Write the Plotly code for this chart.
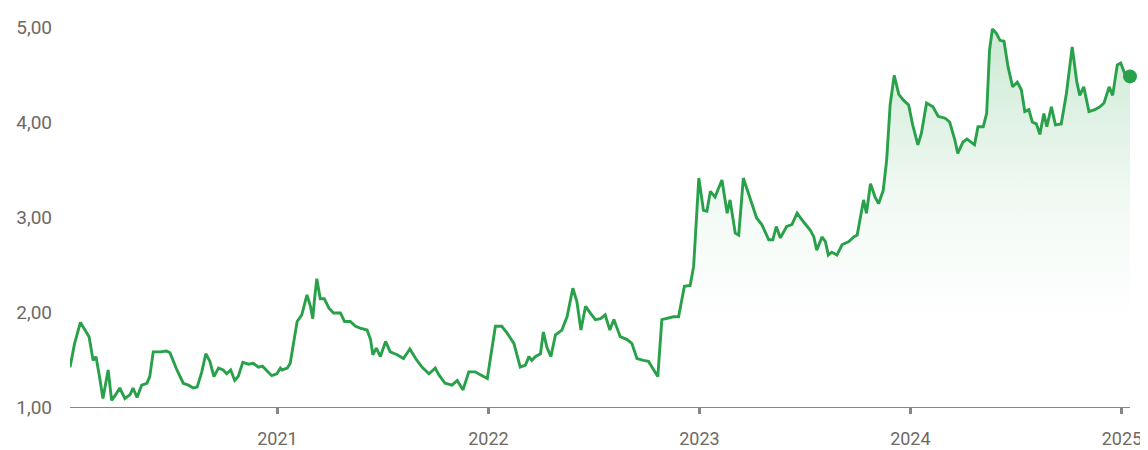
import plotly.graph_objects as go

dates = [
    "2020-01-08", "2020-01-16", "2020-01-26", "2020-02-03", "2020-02-10", "2020-02-17", "2020-02-22",
    "2020-02-28", "2020-03-05", "2020-03-14", "2020-03-20", "2020-03-27", "2020-04-03", "2020-04-12",
    "2020-04-21", "2020-04-26", "2020-05-03", "2020-05-11", "2020-05-20", "2020-05-25", "2020-05-31",
    "2020-06-12", "2020-06-23", "2020-06-29", "2020-07-11", "2020-07-22", "2020-07-31", "2020-08-08",
    "2020-08-15", "2020-08-23", "2020-08-30", "2020-09-06", "2020-09-13", "2020-09-21", "2020-09-29",
    "2020-10-05", "2020-10-12", "2020-10-19", "2020-10-25", "2020-11-02", "2020-11-12", "2020-11-20",
    "2020-11-29", "2020-12-06", "2020-12-13", "2020-12-22", "2020-12-31",
    "2021-01-06", "2021-01-09", "2021-01-18", "2021-01-23", "2021-01-29", "2021-02-04", "2021-02-12",
    "2021-02-21", "2021-02-27", "2021-03-03", "2021-03-06", "2021-03-10", "2021-03-16", "2021-03-23",
    "2021-03-31", "2021-04-08", "2021-04-20", "2021-04-27", "2021-05-07", "2021-05-16", "2021-05-24",
    "2021-06-05", "2021-06-11", "2021-06-15", "2021-06-21", "2021-06-28", "2021-07-07", "2021-07-15",
    "2021-07-27", "2021-08-07", "2021-08-18", "2021-08-28", "2021-09-08", "2021-09-20", "2021-10-01",
    "2021-10-07", "2021-10-18", "2021-10-30", "2021-11-08", "2021-11-18", "2021-11-28", "2021-12-09",
    "2021-12-18", "2021-12-30",
    "2022-01-13", "2022-01-24", "2022-02-02", "2022-02-14", "2022-02-25", "2022-03-06", "2022-03-12",
    "2022-03-17", "2022-03-23", "2022-04-01", "2022-04-06", "2022-04-12", "2022-04-19", "2022-04-27",
    "2022-05-08", "2022-05-17", "2022-05-27", "2022-06-03", "2022-06-10", "2022-06-18", "2022-06-26",
    "2022-07-05", "2022-07-14", "2022-07-22", "2022-07-30", "2022-08-06", "2022-08-17", "2022-08-29",
    "2022-09-06", "2022-09-15", "2022-09-26", "2022-10-05", "2022-10-14", "2022-10-21", "2022-10-28",
    "2022-11-06", "2022-11-17", "2022-11-26", "2022-12-06", "2022-12-16", "2022-12-22", "2022-12-31",
    "2023-01-08", "2023-01-14", "2023-01-20", "2023-01-28", "2023-02-09", "2023-02-18", "2023-02-23",
    "2023-03-04", "2023-03-10", "2023-03-18", "2023-03-30", "2023-04-10", "2023-04-19", "2023-05-01",
    "2023-05-08", "2023-05-14", "2023-05-21", "2023-06-01", "2023-06-10", "2023-06-19", "2023-06-30",
    "2023-07-12", "2023-07-18", "2023-07-23", "2023-08-01", "2023-08-07", "2023-08-12", "2023-08-18",
    "2023-08-27", "2023-09-05", "2023-09-16", "2023-09-25", "2023-10-01", "2023-10-06", "2023-10-12",
    "2023-10-17", "2023-10-24", "2023-11-01", "2023-11-07", "2023-11-15", "2023-11-21", "2023-11-27",
    "2023-12-04", "2023-12-12", "2023-12-20", "2023-12-29",
    "2024-01-05", "2024-01-14", "2024-01-20", "2024-01-29", "2024-02-09", "2024-02-18", "2024-03-01",
    "2024-03-09", "2024-03-18", "2024-03-23", "2024-04-01", "2024-04-08", "2024-04-21", "2024-04-27",
    "2024-05-06", "2024-05-12", "2024-05-17", "2024-05-22", "2024-05-29", "2024-06-04", "2024-06-11",
    "2024-06-18", "2024-06-26", "2024-07-04", "2024-07-11", "2024-07-17", "2024-07-24", "2024-07-30",
    "2024-08-06", "2024-08-12", "2024-08-19", "2024-08-24", "2024-09-01", "2024-09-08", "2024-09-18",
    "2024-09-27", "2024-10-07", "2024-10-15", "2024-10-20", "2024-10-27", "2024-11-05", "2024-11-15",
    "2024-11-24", "2024-12-01", "2024-12-10", "2024-12-16", "2024-12-24", "2024-12-30",
    "2025-01-07", "2025-01-15",
]

prices = [
    1.42, 1.67, 1.89, 1.81, 1.74, 1.49, 1.53,
    1.32, 1.09, 1.39, 1.07, 1.13, 1.20, 1.09,
    1.13, 1.20, 1.10, 1.23, 1.25, 1.32, 1.58,
    1.58, 1.59, 1.57, 1.39, 1.25, 1.23, 1.20,
    1.21, 1.37, 1.56, 1.48, 1.32, 1.41, 1.39,
    1.35, 1.39, 1.28, 1.32, 1.47, 1.45, 1.46,
    1.42, 1.43, 1.39, 1.33, 1.35,
    1.41, 1.39, 1.41, 1.46, 1.67, 1.90, 1.97,
    2.18, 2.06, 1.93, 2.13, 2.35, 2.14, 2.14,
    2.04, 1.99, 1.99, 1.90, 1.90, 1.85, 1.83,
    1.81, 1.71, 1.55, 1.62, 1.53, 1.69, 1.58,
    1.55, 1.51, 1.61, 1.51, 1.42, 1.35, 1.41,
    1.34, 1.25, 1.23, 1.28, 1.18, 1.37, 1.37,
    1.34, 1.30,
    1.85, 1.85, 1.78, 1.67, 1.42, 1.44, 1.53,
    1.49, 1.53, 1.56, 1.79, 1.63, 1.53, 1.76,
    1.81, 1.95, 2.25, 2.11, 1.81, 2.06, 1.99,
    1.92, 1.93, 1.97, 1.81, 1.92, 1.74, 1.71,
    1.67, 1.51, 1.49, 1.48, 1.39, 1.32, 1.92,
    1.93, 1.95, 1.95, 2.27, 2.28, 2.48, 3.41,
    3.07, 3.06, 3.27, 3.21, 3.39, 3.04, 3.18,
    2.83, 2.81, 3.41, 3.18, 2.99, 2.92, 2.76,
    2.76, 2.90, 2.78, 2.90, 2.92, 3.04, 2.95,
    2.86, 2.79, 2.65, 2.79, 2.74, 2.60, 2.63,
    2.60, 2.71, 2.74, 2.79, 2.81, 3.00, 3.18,
    3.04, 3.35, 3.21, 3.14, 3.28, 3.60, 4.18,
    4.49, 4.29, 4.23, 4.18,
    3.97, 3.76, 3.88, 4.20, 4.16, 4.06, 4.04,
    4.00, 3.81, 3.67, 3.79, 3.82, 3.76, 3.95,
    3.95, 4.09, 4.76, 4.98, 4.93, 4.86, 4.85,
    4.58, 4.37, 4.42, 4.34, 4.11, 4.13, 4.00,
    3.98, 3.87, 4.09, 3.95, 4.16, 3.97, 3.98,
    4.30, 4.79, 4.42, 4.28, 4.37, 4.11, 4.13,
    4.16, 4.20, 4.37, 4.28, 4.60, 4.62,
    4.49, 4.48,
]

y_ticks = [1, 2, 3, 4, 5]
x_tick_vals = ["2021-01-01", "2022-01-01", "2023-01-01", "2024-01-01", "2025-01-01"]
x_tick_text = ["2021", "2022", "2023", "2024", "2025"]

GREEN = "#29a04a"
AXIS = "#8c8480"
TEXT = "#6e6965"

fig = go.Figure()
fig.add_trace(go.Scatter(
    x=dates, y=prices, mode="lines",
    line=dict(color=GREEN, width=2.9),
    fill="tozeroy",
    fillgradient=dict(
        type="vertical",
        start=1.9, stop=4.9,
        colorscale=[[0, "rgba(52,168,83,0)"], [0.4, "rgba(52,168,83,0.06)"], [1, "rgba(52,168,83,0.24)"]],
    ),
    hoverinfo="skip",
    showlegend=False,
))
fig.add_trace(go.Scatter(
    x=[dates[-1]], y=[prices[-1]], mode="markers",
    marker=dict(color=GREEN, size=14),
    cliponaxis=False,
    showlegend=False,
    hoverinfo="skip",
))

# page body has an 8px default margin, so the figure is sized 1140x442
fig.update_layout(
    width=1140, height=442,
    margin=dict(l=62, r=18, t=0, b=43, autoexpand=False),
    paper_bgcolor="white", plot_bgcolor="white",
    separators=",.",
    font=dict(family="Roboto", size=18, color=TEXT),
)
fig.update_xaxes(
    type="date",
    range=["2020-01-08", "2025-01-15"],
    showgrid=False, zeroline=False,
    showline=True, linecolor=AXIS, linewidth=1.2,
    ticks="outside", ticklen=6, tickwidth=2.5, tickcolor=AXIS,
    tickvals=x_tick_vals, ticktext=x_tick_text,
    ticklabelstandoff=9,
    tickfont=dict(family="Roboto", size=18, color=TEXT),
)
fig.update_yaxes(
    range=[1, 5.2],
    showgrid=False, zeroline=False, showline=False,
    tickvals=y_ticks, tickformat=".2f",
    ticks="", ticklabelstandoff=17,
    tickfont=dict(family="Roboto", size=19, color=TEXT),
)

fig.write_html("out.html")
